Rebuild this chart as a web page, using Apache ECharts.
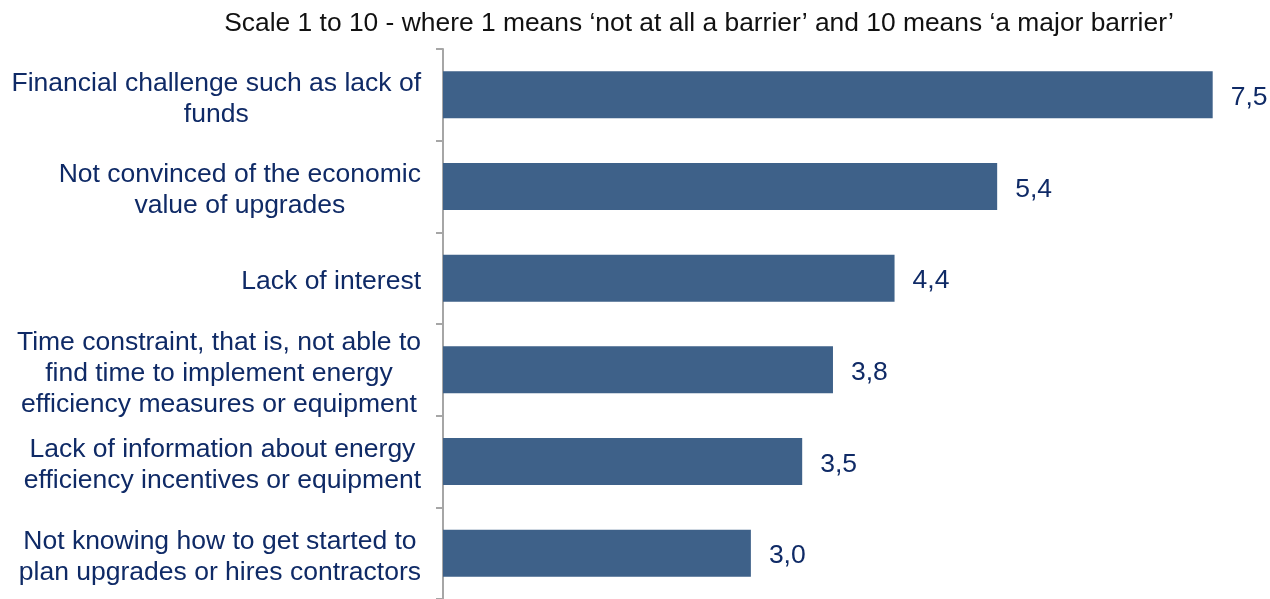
<!DOCTYPE html>
<html>
<head>
<meta charset="utf-8">
<script src="https://cdn.jsdelivr.net/npm/echarts@6/dist/echarts.min.js"></script>
<style>
  html, body { margin: 0; padding: 0; background: #ffffff; }
  #chart { width: 1270px; height: 599px; }
</style>
</head>
<body>
<div id="chart"></div>
<script>
// Barriers to energy-efficiency upgrades, mean score on a 1-10 scale
const titleText = 'Scale 1 to 10 - where 1 means \u2018not at all a barrier\u2019 and 10 means \u2018a major barrier\u2019';

const categories = [
  'Financial challenge such as lack of\nfunds',
  'Not convinced of the economic\nvalue of upgrades',
  'Lack of interest',
  'Time constraint, that is, not able to\nfind time to implement energy\nefficiency measures or equipment',
  'Lack of information about energy\nefficiency incentives or equipment',
  'Not knowing how to get started to\nplan upgrades or hires contractors'
];

const scores = [7.5, 5.4, 4.4, 3.8, 3.5, 3.0];

const FONT = '"Liberation Sans", Arial, Helvetica, sans-serif';
const NAVY = '#0f2a66';
const BAR = '#3e6189';

const chart = echarts.init(document.getElementById('chart'), null, { renderer: 'canvas' });

chart.setOption({
  backgroundColor: '#ffffff',
  animation: false,
  title: {
    text: titleText,
    left: 694,
    textAlign: 'center',
    top: 6,
    textStyle: { fontFamily: FONT, fontSize: 26.4, fontWeight: 'normal', color: '#111111' }
  },
  grid: { left: 443, top: 49, width: 821, height: 554, containLabel: false },
  xAxis: {
    type: 'value',
    min: 0,
    max: 8,
    show: false
  },
  yAxis: {
    type: 'category',
    inverse: true,
    data: categories,
    axisLine: { show: true, lineStyle: { color: '#a6a6a6', width: 2 } },
    axisTick: { show: true, length: 7, lineStyle: { color: '#a6a6a6', width: 2 } },
    axisLabel: {
      margin: 22,
      align: 'right',
      padding: [8, 0, 0, 0],
      fontFamily: FONT,
      fontSize: 26.5,
      lineHeight: 31,
      color: NAVY,
      // center each line within the right-aligned label block
      formatter: function (value) {
        return value.split('\n').map(function (l) { return '{c|' + l + '}'; }).join('\n');
      },
      rich: {
        c: { align: 'center', fontFamily: FONT, fontSize: 26.5, lineHeight: 31, color: NAVY }
      }
    },
    splitLine: { show: false }
  },
  series: [{
    type: 'bar',
    data: scores,
    barWidth: 47,
    itemStyle: { color: BAR },
    label: {
      show: true,
      position: 'right',
      distance: 18,
      offset: [0, 3],
      fontFamily: FONT,
      fontSize: 26.5,
      color: NAVY,
      formatter: function (p) { return p.value.toFixed(1).replace('.', ','); }
    }
  }]
});
</script>
</body>
</html>
